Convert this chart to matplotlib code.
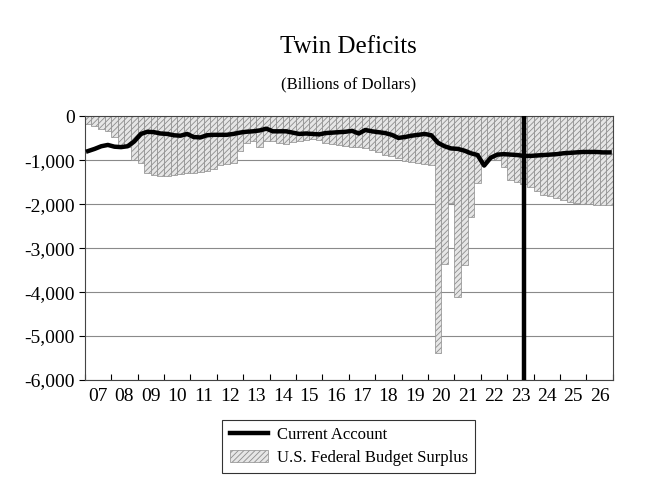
import numpy as np
import matplotlib
matplotlib.use("Agg")
import matplotlib.pyplot as plt

plt.rcParams["font.family"] = ["Liberation Serif", "DejaVu Serif"]
plt.rcParams["hatch.color"] = "#9a9a9a"
plt.rcParams["hatch.linewidth"] = 0.6

years = list(range(2007, 2027))
year_labels = [f"{y % 100:02d}" for y in years]

# quarterly, 2007Q1 .. 2026Q4 (billions of dollars)
budget_surplus = [
    -180, -230, -280, -340,      # 2007
    -460, -650, -700, -1000,     # 2008
    -1050, -1300, -1330, -1350,  # 2009
    -1350, -1340, -1320, -1300,  # 2010
    -1290, -1270, -1240, -1200,  # 2011
    -1100, -1080, -1050, -780,   # 2012
    -600, -560, -700, -560,      # 2013
    -560, -600, -620, -580,      # 2014
    -560, -540, -520, -540,      # 2015
    -600, -640, -660, -680,      # 2016
    -690, -700, -730, -760,      # 2017
    -800, -870, -900, -950,      # 2018
    -1010, -1030, -1070, -1080,  # 2019
    -1100, -5390, -3360, -1980,  # 2020
    -4110, -3380, -2300, -1510,  # 2021
    -1000, -990, -990, -1150,    # 2022
    -1440, -1500, -1550, -1600,  # 2023
    -1700, -1780, -1820, -1860,  # 2024
    -1900, -1940, -1970, -2000,  # 2025
    -2000, -2010, -2010, -2020,  # 2026
]

current_account = [
    -790, -740, -680, -650,      # 2007
    -690, -700, -680, -570,      # 2008
    -400, -350, -360, -390,      # 2009
    -400, -430, -440, -400,      # 2010
    -470, -480, -430, -420,      # 2011
    -420, -420, -400, -370,      # 2012
    -350, -340, -320, -280,      # 2013
    -340, -340, -340, -370,      # 2014
    -400, -390, -400, -410,      # 2015
    -380, -370, -360, -350,      # 2016
    -330, -390, -310, -340,      # 2017
    -360, -380, -420, -490,      # 2018
    -470, -440, -420, -400,      # 2019
    -430, -600, -680, -730,      # 2020
    -740, -780, -840, -880,      # 2021
    -1120, -940, -870, -860,     # 2022
    -870, -880, -900, -900,      # 2023
    -890, -880, -870, -860,      # 2024
    -840, -830, -820, -810,      # 2025
    -810, -810, -820, -820,      # 2026
]

marker_quarter = 2023.5 + 0.125  # 2023 Q3

x = np.array(years[0] + np.arange(len(budget_surplus)) * 0.25 + 0.125)

fig = plt.figure(figsize=(6.52, 4.91), dpi=100)
ax = fig.add_axes([0.130, 0.226, 0.810, 0.537])

bars = ax.bar(x, budget_surplus, width=0.25, facecolor="#e6e6e6", edgecolor="#8c8c8c",
              linewidth=0.5, hatch="//////", label="U.S. Federal Budget Surplus", zorder=2)
line, = ax.plot(x, current_account, color="black", linewidth=3.2, label="Current Account",
                zorder=3, solid_joinstyle="round")
ax.axvline(marker_quarter, color="black", linewidth=3.2, zorder=4)

ax.set_xlim(years[0], years[-1] + 1)
ax.set_ylim(-6000, 0)
ax.set_yticks(range(-6000, 1, 1000))
ax.set_yticklabels([f"{v:,}" for v in range(-6000, 1, 1000)])
ax.yaxis.grid(True, color="#8a8a8a", linewidth=0.8, zorder=0)
ax.set_axisbelow(True)

ax.set_xticks(years + [years[-1] + 1])
ax.set_xticklabels([])
ax.set_xticks([y + 0.5 for y in years], minor=True)
ax.set_xticklabels(year_labels, minor=True)
ax.tick_params(axis="x", which="major", direction="in", length=4, width=0.8)
ax.tick_params(axis="x", which="minor", length=0, labelsize=14, pad=6)
ax.tick_params(axis="y", direction="out", length=4, width=0.8, labelsize=14, pad=3)

for s in ax.spines.values():
    s.set_linewidth(0.8)
    s.set_color("#444444")

fig.text(0.535, 0.905, "Twin Deficits", ha="center", va="center", fontsize=18)
fig.text(0.535, 0.829, "(Billions of Dollars)", ha="center", va="center", fontsize=12)

leg = fig.legend([line, bars], ["Current Account", "U.S. Federal Budget Surplus"],
                 loc="upper center", bbox_to_anchor=(0.535, 0.142 + 0.02), fontsize=12,
                 frameon=True, fancybox=False, edgecolor="black", handlelength=2.3,
                 borderpad=0.45, labelspacing=0.4, handletextpad=0.5)
leg.get_frame().set_linewidth(0.8)

fig.savefig("out.png", dpi=100)
